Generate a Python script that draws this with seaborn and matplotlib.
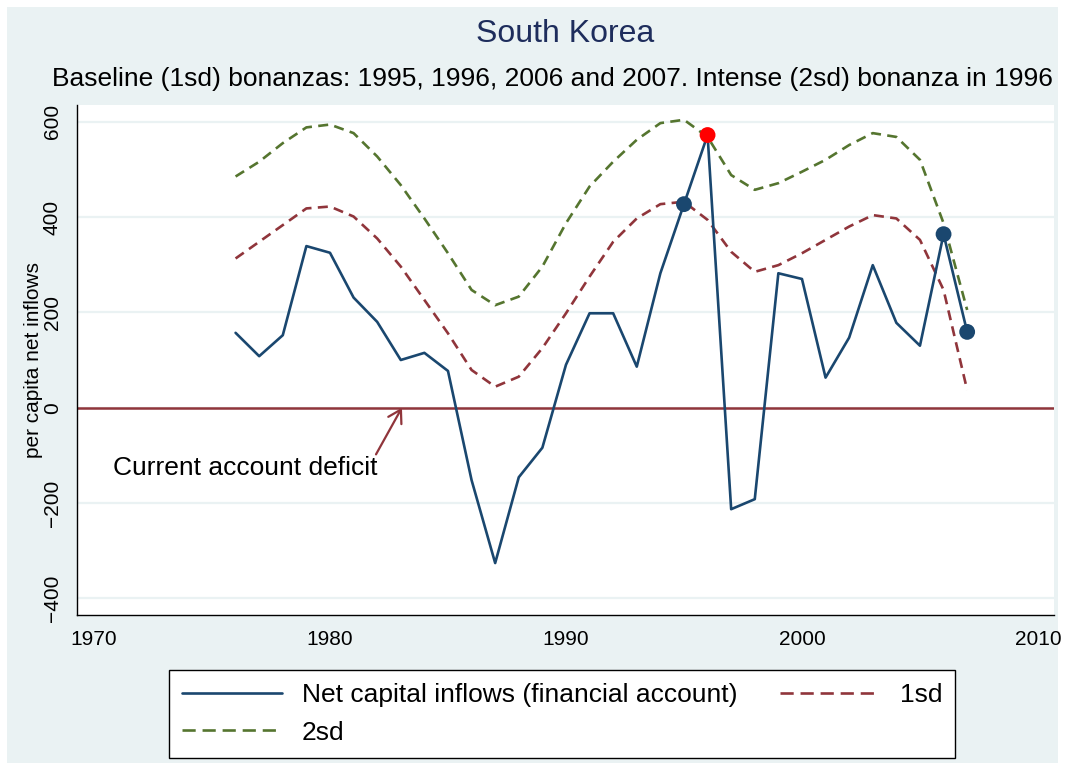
import matplotlib
matplotlib.use("Agg")
import matplotlib.pyplot as plt
from matplotlib.patches import Rectangle
from matplotlib.lines import Line2D
import seaborn as sns
import pandas as pd

years = list(range(1976, 2008))
net_inflows = [157, 108, 152, 339, 325, 231, 180, 100, 115, 77,
               -152, -326, -146, -84, 90, 198, 198, 86, 282, 427,
               572, -213, -192, 282, 270, 63, 147, 299, 178, 130,
               364, 159]
sd1 = [313, 348, 383, 418, 422, 401, 355, 296, 226, 156,
       79, 44, 65, 125, 198, 275, 348, 397, 427, 432,
       394, 327, 285, 299, 324, 352, 380, 404, 397, 352,
       247, 37]
sd2 = [485, 516, 555, 588, 594, 576, 527, 467, 397, 324,
       247, 215, 233, 296, 387, 464, 516, 562, 597, 604,
       568, 488, 457, 471, 495, 520, 551, 576, 568, 520,
       387, 205]
baseline_years = [1995, 2006, 2007]
baseline_vals = [427, 364, 159]
intense_years = [1996]
intense_vals = [572]
x_ticks = [1970, 1980, 1990, 2000, 2010]
y_ticks = [-400, -200, 0, 200, 400, 600]
y_tick_labels = ["\u2212400", "\u2212200", "0", "200", "400", "600"]

title = "South Korea"
subtitle = "Baseline (1sd) bonanzas: 1995, 1996, 2006 and 2007. Intense (2sd) bonanza in 1996"
lab_net = "Net capital inflows (financial account)"
lab_1sd = "1sd"
lab_2sd = "2sd"

NAVY = "#1a476f"
MAROON = "#90353b"
GREEN = "#55752f"
BG = "#eaf2f3"
LW = 1.9

sns.set_style("white")
plt.rcParams["font.family"] = ["Liberation Sans", "DejaVu Sans"]
plt.rcParams["text.color"] = "black"
plt.rcParams["axes.labelcolor"] = "black"
plt.rcParams["xtick.color"] = "black"
plt.rcParams["ytick.color"] = "black"
plt.rcParams["legend.labelcolor"] = "black"

df = pd.DataFrame({"year": years, "net": net_inflows, "sd1": sd1, "sd2": sd2})

fig = plt.figure(figsize=(10.65, 7.7), dpi=100, facecolor="white")
fig.patches.append(Rectangle((7 / 1065, 7 / 770), 1 - 14 / 1065, 1 - 14 / 770,
                             transform=fig.transFigure, facecolor=BG,
                             edgecolor="none", zorder=-10))
ax = fig.add_axes([77 / 1065, 1 - 615 / 770, (1054 - 77) / 1065, (615 - 105) / 770])
ax.set_facecolor("white")

for yt in y_ticks:
    ax.axhline(yt, color=BG, lw=1.6, zorder=0)

sns.lineplot(data=df, x="year", y="net", ax=ax, color=NAVY, lw=LW, zorder=3)
sns.lineplot(data=df, x="year", y="sd1", ax=ax, color=MAROON, lw=LW, zorder=2)
sns.lineplot(data=df, x="year", y="sd2", ax=ax, color=GREEN, lw=LW, zorder=2)
lines = ax.get_lines()
lines[-2].set_dashes([3.8, 2.4])
lines[-1].set_dashes([3.8, 2.4])

sns.scatterplot(x=baseline_years, y=baseline_vals, ax=ax, color=NAVY, s=130,
                edgecolor="none", zorder=4, legend=False)
sns.scatterplot(x=intense_years, y=intense_vals, ax=ax, color="#ff0000", s=130,
                edgecolor="none", zorder=5, legend=False)

ax.axhline(0, color=MAROON, lw=1.8, zorder=1)

ax.annotate("", xy=(1983.05, 0), xytext=(1981.95, -98),
            arrowprops=dict(arrowstyle="->,head_length=0.5,head_width=0.3",
                            color=MAROON, lw=1.6, mutation_scale=18,
                            shrinkA=0, shrinkB=0), zorder=6)
ax.text(1970.8, -126, "Current account deficit", fontsize=19, ha="left",
        va="center", color="black")

ax.set_xlim(1969.28, 2010.68)
ax.set_ylim(-435, 635)
ax.set_xticks(x_ticks)
ax.set_yticks(y_ticks)
ax.set_yticklabels(y_tick_labels, rotation=90, va="center")
ax.tick_params(axis="both", direction="out", length=7, width=1.0,
               color="black", labelcolor="black", labelsize=15, pad=4)
ax.set_xlabel("")
ax.set_ylabel("per capita net inflows", fontsize=15, labelpad=0, color="black")

for side in ["top", "right"]:
    ax.spines[side].set_visible(False)
for side in ["left", "bottom"]:
    ax.spines[side].set_color("black")
    ax.spines[side].set_linewidth(1.0)
ax.grid(False)

fig.text(0.531, 1 - 34 / 770, title, ha="center", va="center",
         fontsize=23, color="#1e2d5c")
fig.text(0.519, 1 - 79 / 770, subtitle, ha="center", va="center",
         fontsize=19, color="black")

h_net = Line2D([], [], color=NAVY, lw=LW)
h_1sd = Line2D([], [], color=MAROON, lw=LW, dashes=[5.0, 2.6])
h_2sd = Line2D([], [], color=GREEN, lw=LW, dashes=[5.0, 2.6])
leg = fig.legend([h_net, h_2sd, h_1sd], [lab_net, lab_2sd, lab_1sd], ncol=2,
                 loc="center", bbox_to_anchor=(562 / 1065, 1 - 714 / 770),
                 frameon=True, fancybox=False, edgecolor="black",
                 facecolor="white", framealpha=1, fontsize=19,
                 handlelength=3.8, handletextpad=0.75, columnspacing=1.6,
                 borderpad=0.5, labelspacing=0.5, borderaxespad=0)
leg.get_frame().set_linewidth(1.0)

fig.savefig("out.png", dpi=100, facecolor=fig.get_facecolor())
